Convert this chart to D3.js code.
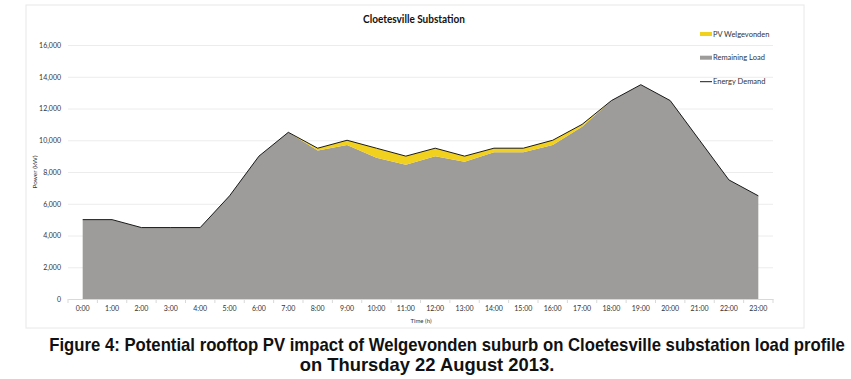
<!DOCTYPE html>
<html><head><meta charset="utf-8">
<script src="https://cdn.jsdelivr.net/npm/d3@7/dist/d3.min.js"></script>
<style>body{margin:0;background:#fff}svg{display:block}</style>
</head><body><svg id="c" width="851" height="379"></svg>
<script>
const hours = ["0:00","1:00","2:00","3:00","4:00","5:00","6:00","7:00","8:00","9:00","10:00","11:00","12:00","13:00","14:00","15:00","16:00","17:00","18:00","19:00","20:00","21:00","22:00","23:00"];
const energyDemand = [5000,5000,4500,4500,4500,6500,9000,10500,9500,10000,9500,9000,9500,9000,9500,9500,10000,11000,12500,13500,12500,10000,7500,6500];
const remainingLoad = [5000,5000,4500,4500,4500,6500,9000,10500,9350,9700,8900,8450,9000,8650,9250,9250,9700,10850,12500,13500,12500,10000,7500,6500];
const yTicks = [0,2000,4000,6000,8000,10000,12000,14000,16000];
const legendLabels = ["PV Welgevonden","Remaining Load","Energy Demand"];

(function(){
const svg = d3.select("#c");
const C = {gray:"#9e9c9a", yellow:"#f2d01e", line:"#1a1a1a", grid:"#ececec", text:"#333"};
const pL = 68, pR = 773, pT = 45, pB = 299;

svg.append("rect").attr("x",26).attr("y",5).attr("width",778).attr("height",323)
  .attr("fill","#fff").attr("stroke","#e8e8e8").attr("stroke-width",1);

const x = d3.scaleBand().domain(hours).range([pL,pR]).paddingInner(0).paddingOuter(0);
const y = d3.scaleLinear().domain([0,16000]).range([pB,pT]);
const cx = h => x(h) + x.bandwidth()/2;

const yAxis = d3.axisLeft(y).tickValues(yTicks).tickSize(-(pR-pL)).tickPadding(7)
  .tickFormat(d3.format(","));
const gy = svg.append("g").attr("transform",`translate(${pL},0)`).call(yAxis);
gy.select(".domain").remove();
gy.selectAll(".tick line").attr("stroke",C.grid);
gy.selectAll(".tick text").attr("font-family","Lato, 'Open Sans', sans-serif").attr("font-size","7px").attr("fill",C.text);

const rows = hours.map((h,i)=>({h, d:energyDemand[i], r:remainingLoad[i]}));

svg.append("path").datum(rows).attr("fill",C.gray)
  .attr("d", d3.area().x(d=>cx(d.h)).y0(y(0)).y1(d=>y(d.r)));
svg.append("path").datum(rows).attr("fill",C.yellow)
  .attr("d", d3.area().x(d=>cx(d.h)).y0(d=>y(d.r)).y1(d=>y(d.d)));
svg.append("path").datum(rows).attr("fill","none").attr("stroke",C.line).attr("stroke-width",1)
  .attr("d", d3.line().x(d=>cx(d.h)).y(d=>y(d.d)));

const gx = svg.append("g").attr("transform",`translate(0,${pB})`)
  .call(d3.axisBottom(x).tickSize(0).tickPadding(7));
gx.select(".domain").attr("stroke","#d9d9d9");
gx.selectAll(".tick text").attr("font-family","Lato, 'Open Sans', sans-serif").attr("font-size","7px").attr("fill",C.text);
const bounds = hours.map(h=>x(h)).concat([pR]);
svg.append("g").selectAll("line").data(bounds).join("line")
  .attr("x1",d=>d).attr("x2",d=>d)
  .attr("y1",pB).attr("y2",pB+4).attr("stroke","#d9d9d9");

svg.append("text").attr("x",414).attr("y",22.5).attr("text-anchor","middle")
  .attr("font-family","Lato, sans-serif").attr("font-weight","bold").attr("font-size","10.5px").attr("fill","#111")
  .attr("textLength",102).attr("lengthAdjust","spacingAndGlyphs").text("Cloetesville Substation");
svg.append("text").attr("transform","translate(37,172) rotate(-90)").attr("text-anchor","middle")
  .attr("font-family","Lato, sans-serif").attr("font-size","6.5px").attr("fill",C.text).text("Power (kW)");
svg.append("text").attr("x",421).attr("y",323).attr("text-anchor","middle")
  .attr("font-family","Lato, sans-serif").attr("font-size","6px").attr("fill",C.text).text("Time (h)");

const lg = svg.append("g");
const ly = [34, 57.7, 81.7];
lg.append("rect").attr("x",700).attr("y",ly[0]-2).attr("width",12).attr("height",4).attr("fill",C.yellow);
lg.append("rect").attr("x",700).attr("y",ly[1]-2).attr("width",12).attr("height",4).attr("fill",C.gray);
lg.append("line").attr("x1",700).attr("x2",712).attr("y1",ly[2]).attr("y2",ly[2]).attr("stroke",C.line).attr("stroke-width",1);
lg.selectAll("text").data(legendLabels).join("text")
  .attr("x",713).attr("y",(d,i)=>ly[i]+2.6)
  .attr("font-family","Lato, sans-serif").attr("font-size","7.5px").attr("fill",C.text).text(d=>d);

const capFont = "'Liberation Sans Narrow','Arial Narrow','Liberation Sans',Arial,sans-serif";
function caption(str, cxp, by, width){
  const t = svg.append("text").attr("text-anchor","middle")
    .attr("font-family",capFont).attr("font-weight","bold").attr("font-size","17.5px").attr("fill","#111")
    .text(str);
  const w = t.node().getComputedTextLength();
  t.attr("transform",`translate(${cxp},${by}) scale(${width/w},1)`);
}
caption("Figure 4: Potential rooftop PV impact of Welgevonden suburb on Cloetesville substation load profile", 447, 351, 796);
caption("on Thursday 22 August 2013.", 427, 371, 255);
})();
</script></body></html>
